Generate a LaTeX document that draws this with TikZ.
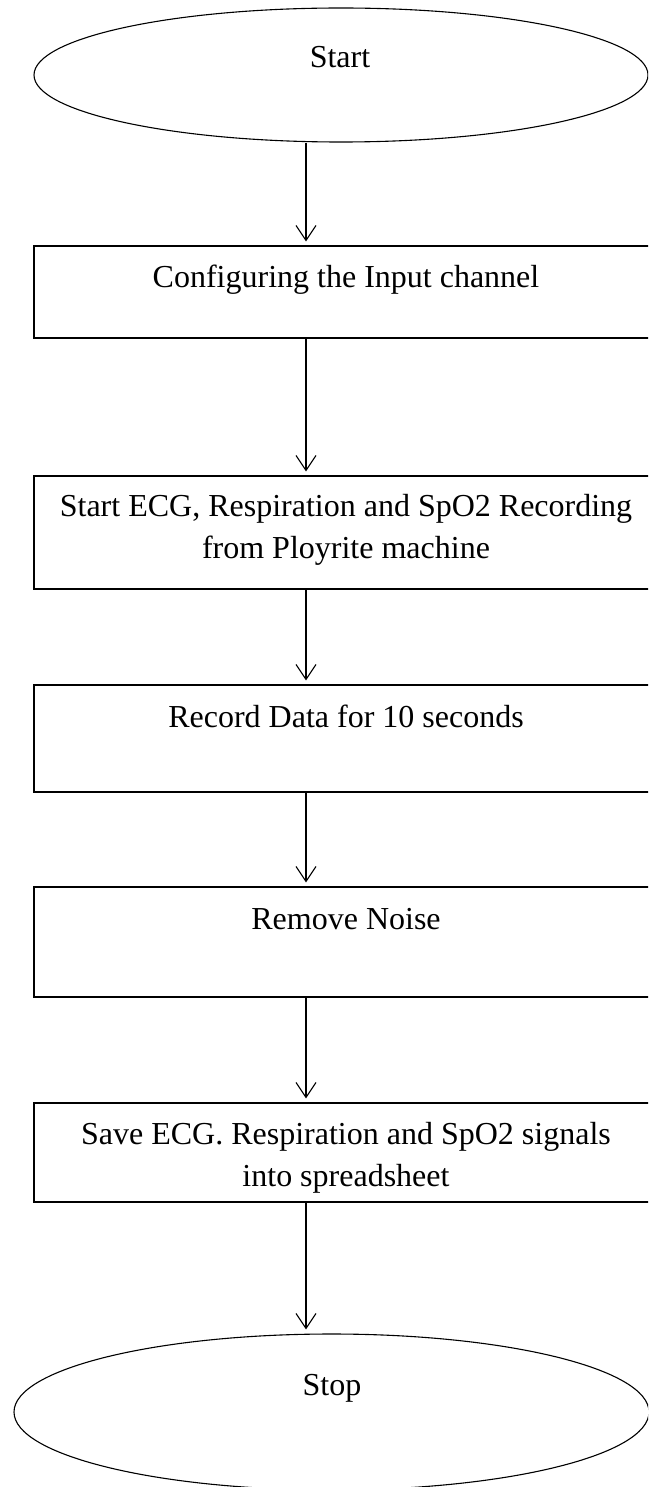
\documentclass[tikz,border=0pt]{standalone}
\usepackage{fontspec}
\setmainfont{Liberation Serif}
\usetikzlibrary{shapes.geometric,arrows.meta}
\begin{document}
\begin{tikzpicture}[x=1pt,y=-1pt,
  outline/.style={draw=black, line width=1.1pt},
  oval/.style={outline, ellipse, inner sep=0pt},
  stepbox/.style={outline, rectangle, inner sep=0pt, minimum width=624pt},
  txt/.style={font=\fontsize{32}{42}\selectfont, align=center, inner sep=0pt, anchor=base},
  flow/.style={line width=1.1pt, -{Straight Barb[length=15pt,width=20pt]}, shorten >=4pt}
]
\useasboundingbox (0,0) rectangle (648,1487);
\clip (0,0) rectangle (648,1487);

% terminals and process steps
\node[oval, minimum width=614pt, minimum height=134pt] (start) at (341,75) {};
\node[stepbox, minimum height=92pt]  (b1) at (346,292) {};
\node[stepbox, minimum height=113pt] (b2) at (346,532.5) {};
\node[stepbox, minimum height=107pt] (b3) at (346,738.5) {};
\node[stepbox, minimum height=110pt] (b4) at (346,942) {};
\node[stepbox, minimum height=99pt]  (b5) at (346,1152.5) {};
\node[oval, minimum width=635pt, minimum height=156pt] (stop) at (331.5,1412) {};

% texts, placed near the top of each shape (base = last line's baseline)
\node[txt] (tstart) at (340,67.5) {Start};
\node[txt] (t1) at (346,287.5) {Configuring the Input channel};
\node[txt] (t2) at (346,558.5) {Start ECG, Respiration and SpO2 Recording\\from Ployrite machine};
\node[txt] (t3) at (346,727.5) {Record Data for 10 seconds};
\node[txt] (t4) at (346,929.5) {Remove Noise};
\node[txt] (t5) at (346,1186) {Save ECG. Respiration and SpO2 signals\\into spreadsheet};
\node[txt] (tstop) at (332,1395.5) {Stop};

% flow line column
\coordinate (ax) at (306,0);
\draw[flow] (start.south -| ax) -- (b1.north -| ax);
\draw[flow] (b1.south -| ax) -- (b2.north -| ax);
\draw[flow] (b2.south -| ax) -- (b3.north -| ax);
\draw[flow] (b3.south -| ax) -- (b4.north -| ax);
\draw[flow] (b4.south -| ax) -- (b5.north -| ax);
\draw[flow] (b5.south -| ax) -- (stop.north -| ax);
\end{tikzpicture}
\end{document}
